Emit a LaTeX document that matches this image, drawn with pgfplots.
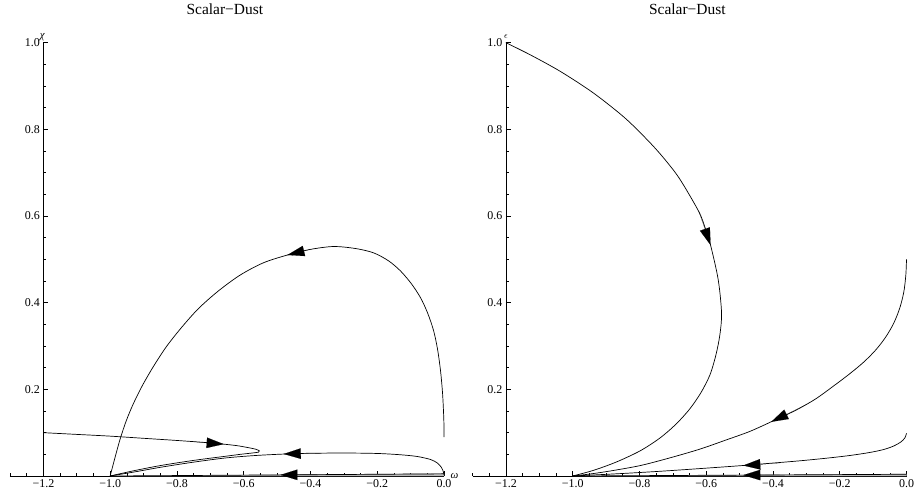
\documentclass[border=0pt]{standalone}
\usepackage{fontspec}
\setmainfont{Liberation Serif}
\usepackage{pgfplots}
\pgfplotsset{compat=1.18}
\usetikzlibrary{arrows.meta}
\pgfplotsset{
  msty/.style={
    scale only axis, width=434bp, height=433.3bp,
    xmin=-1.3, xmax=0, ymin=0, ymax=1,
    axis x line=bottom, axis y line=left,
    axis line style={-, line width=0.8bp},
    every outer x axis line/.append style={-},
    every outer y axis line/.append style={-},
    axis y line shift=-33.4bp,
    xtick={-1.2,-1,-0.8,-0.6,-0.4,-0.2,0},
    xticklabels={−1.2,−1.0,−0.8,−0.6,−0.4,−0.2,0.0},
    minor xtick={-1.3,-1.25,-1.15,-1.1,-1.05,-0.95,-0.9,-0.85,-0.75,-0.7,-0.65,-0.55,-0.5,-0.45,-0.35,-0.3,-0.25,-0.15,-0.1,-0.05},
    ytick={0.2,0.4,0.6,0.8,1},
    yticklabels={0.2,0.4,0.6,0.8,1.0},
    minor ytick={0.05,0.1,0.15,0.25,0.3,0.35,0.45,0.5,0.55,0.65,0.7,0.75,0.85,0.9,0.95},
    tick align=inside,
    major tick length=5bp, minor tick length=3bp,
    tick style={line width=0.6bp, black},
    tick label style={font=\fontsize{12}{14}\selectfont},
    every axis title/.style={at={(0.495,1)}, anchor=base, yshift=28bp, font=\fontsize{15.5}{18}\selectfont},
    clip=false,
  },
  cur/.style={black, line width=0.7bp, no marks, smooth},
  arr/.style={black, line width=0.1bp, no marks, -{Triangle[length=17bp,width=10.5bp]}},
}
\begin{document}
\begin{tikzpicture}
\begin{axis}[msty, title={Scalar−Dust}, at={(0,0)}, anchor=south west]
% gray band near axis
\addplot[fill=gray!55, draw=none] coordinates {(-1,0) (0,0.006)} \closedcycle;
% big arc
\addplot[cur] coordinates {(0,0.09) (-0.0005,0.129) (-0.004,0.187) (-0.010,0.240) (-0.019,0.291) (-0.031,0.335) (-0.049,0.376) (-0.070,0.411) (-0.097,0.443) (-0.130,0.473) (-0.166,0.4965) (-0.211,0.515) (-0.265,0.525) (-0.331,0.5296) (-0.400,0.523) (-0.469,0.510) (-0.541,0.492) (-0.610,0.464) (-0.676,0.427) (-0.736,0.386) (-0.787,0.342) (-0.832,0.298) (-0.871,0.252) (-0.904,0.208) (-0.931,0.166) (-0.952,0.127) (-0.970,0.0855) (-0.985,0.0439) (-1,0)};
% curve from left
\addplot[cur] coordinates {(-1.2,0.1) (-1.1,0.096) (-1.0,0.092) (-0.9,0.087) (-0.8,0.082) (-0.71,0.077) (-0.66,0.0735) (-0.62,0.070) (-0.59,0.066) (-0.565,0.062) (-0.553,0.058) (-0.556,0.055) (-0.575,0.053) (-0.61,0.050) (-0.65,0.046) (-0.75,0.036) (-0.85,0.024) (-0.93,0.012) (-1,0)};
% loop curve from right
\addplot[cur] coordinates {(0,0.002) (-0.002,0.01) (-0.008,0.02) (-0.02,0.03) (-0.04,0.038) (-0.08,0.045) (-0.13,0.049) (-0.2,0.052) (-0.3,0.053) (-0.43,0.052) (-0.55,0.048) (-0.65,0.042) (-0.75,0.032) (-0.85,0.020) (-0.93,0.009) (-1,0)};
% near axis
\addplot[cur] coordinates {(0,0.005) (-0.5,0.0025) (-1,0)};
% arrows
\addplot[arr] coordinates {(-0.40,0.523) (-0.469,0.510)};
\addplot[arr] coordinates {(-0.75,0.079) (-0.66,0.0735)};
\addplot[arr] coordinates {(-0.35,0.053) (-0.48,0.0508)};
\addplot[arr] coordinates {(-0.38,0.003) (-0.49,0.0025)};
\node[anchor=center, yshift=6bp, xshift=-1bp] at (axis cs:-1.2,1) {\fontsize{11}{12}\selectfont\itshape χ};
\node[anchor=west, xshift=3bp] at (axis cs:0,0) {\fontsize{11}{12}\selectfont\itshape ω};
\end{axis}
\begin{axis}[msty, title={Scalar−Dust}, at={(462.5bp,0)}, anchor=south west]
\addplot[fill=gray!55, draw=none] coordinates {(-1,0) (0,0.005)} \closedcycle;
% curve A
\addplot[cur] coordinates {(-1.2,1.0) (-1.127,0.972) (-1.0375,0.934) (-0.938,0.884) (-0.843,0.826) (-0.768,0.769) (-0.720,0.727) (-0.678,0.684) (-0.622,0.610) (-0.603,0.572) (-0.587,0.533) (-0.564,0.453) (-0.554,0.376) (-0.559,0.326) (-0.571,0.279) (-0.589,0.233) (-0.616,0.192) (-0.649,0.155) (-0.690,0.120) (-0.738,0.088) (-0.798,0.058) (-0.870,0.032) (-0.939,0.0127) (-1,0)};
% curve B
\addplot[cur] coordinates {(0,0.5) (-0.002,0.464) (-0.008,0.425) (-0.020,0.388) (-0.038,0.353) (-0.062,0.321) (-0.092,0.291) (-0.128,0.263) (-0.170,0.236) (-0.218,0.208) (-0.272,0.178) (-0.331,0.152) (-0.400,0.127) (-0.469,0.103) (-0.541,0.083) (-0.619,0.062) (-0.708,0.042) (-0.798,0.024) (-0.888,0.0115) (-0.948,0.0046) (-1,0)};
% curve C
\addplot[cur] coordinates {(0,0.0986) (-0.005,0.0878) (-0.017,0.0785) (-0.038,0.0693) (-0.068,0.0612) (-0.110,0.0543) (-0.170,0.0473) (-0.242,0.0409) (-0.319,0.0351) (-0.409,0.0293) (-0.490,0.0242) (-0.619,0.0171) (-0.738,0.0109) (-0.858,0.0055) (-1,0)};
% curve D
\addplot[cur] coordinates {(0,0.004) (-0.5,0.002) (-1,0)};
% arrows
\addplot[arr] coordinates {(-0.622,0.610) (-0.587,0.533)};
\addplot[arr] coordinates {(-0.30,0.165) (-0.405,0.125)};
\addplot[arr] coordinates {(-0.38,0.030) (-0.489,0.0242)};
\addplot[arr] coordinates {(-0.38,0.0025) (-0.489,0.002)};
\node[anchor=center, yshift=6bp] at (axis cs:-1.2,1) {\small $\epsilon$};
\end{axis}
\pgfresetboundingbox
\path[use as bounding box] (-10bp,-22bp) rectangle (907bp,476bp);
\end{tikzpicture}
\end{document}
